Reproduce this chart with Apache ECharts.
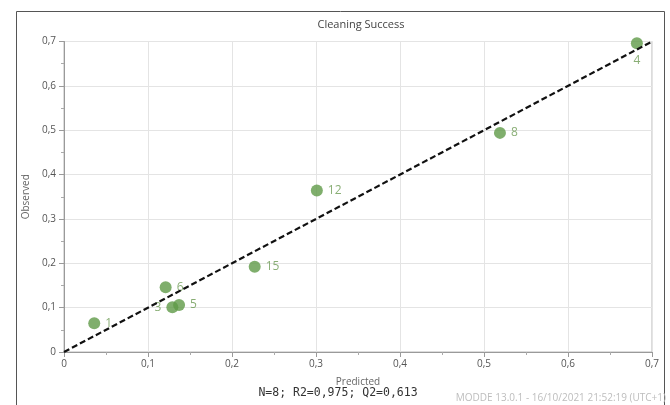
<!DOCTYPE html>
<html>
<head>
<meta charset="utf-8">
<script src="https://cdn.jsdelivr.net/npm/echarts@6/dist/echarts.min.js"></script>
<style>
  html, body { margin: 0; padding: 0; background: #fff; }
  #chart { width: 670px; height: 405px; }
</style>
</head>
<body>
<div id="chart"></div>
<script>
// Observations: run number, predicted value, observed value
const runLabels = ['1', '6', '3', '5', '15', '12', '8', '4'];
const predicted = [0.036, 0.121, 0.129, 0.137, 0.227, 0.301, 0.519, 0.682];
const observed  = [0.065, 0.146, 0.101, 0.106, 0.192, 0.364, 0.494, 0.696];
const labelSide = ['right', 'right', 'left', 'right', 'right', 'right', 'right', 'bottom'];

// Tick values for both axes
const axisTicks = [0, 0.1, 0.2, 0.3, 0.4, 0.5, 0.6, 0.7];
const diagonal = [[0, 0], [0.7, 0.7]];

const chartTitle = 'Cleaning Success';
const xName = 'Predicted';
const yName = 'Observed';
const statsText = 'N=8; R2=0,975; Q2=0,613';
const footerText = 'MODDE 13.0.1 - 16/10/2021 21:52:19 (UTC+1)';

const green = '#5f9a47';
const labelGreen = '#6b9a52';
const font = '"Open Sans", "Noto Sans", sans-serif';

const comma = v => String(Math.round(v * 10) / 10).replace('.', ',');

const points = predicted.map((p, i) => ({
  value: [p, observed[i]],
  name: runLabels[i],
  label: { position: labelSide[i] }
}));

function axis(name, isY) {
  return {
    type: 'value',
    min: axisTicks[0],
    max: axisTicks[axisTicks.length - 1],
    interval: 0.1,
    name: name,
    nameLocation: 'middle',
    nameGap: isY ? 31 : 25,
    nameTextStyle: { color: '#666', fontSize: 10, fontFamily: font },
    axisLine: { show: true, lineStyle: { color: '#9a9a9a', width: 1 } },
    axisTick: { show: true, length: 5, lineStyle: { color: '#9a9a9a' } },
    minorTick: { show: true, splitNumber: 2, length: 3, lineStyle: { color: '#aaa' } },
    splitLine: { show: true, lineStyle: { color: '#e4e4e4', width: 1 } },
    axisLabel: {
      color: '#555', fontSize: 10, fontFamily: font, margin: isY ? 8 : 7,
      formatter: v => comma(v)
    }
  };
}

const chart = echarts.init(document.getElementById('chart'), null, { renderer: 'canvas' });
chart.setOption({
  backgroundColor: '#fff',
  animation: false,
  grid: {
    left: 64, right: 18, top: 41.5, bottom: 53,
    show: true, borderColor: '#b8b8b8', borderWidth: 1, backgroundColor: 'transparent'
  },
  xAxis: axis(xName, false),
  yAxis: axis(yName, true),
  graphic: [
    {
      type: 'rect', silent: true, z: -1,
      shape: { x: 16.5, y: 11.5, width: 648, height: 420 },
      style: { fill: 'none', stroke: '#555', lineWidth: 1 }
    },
    {
      type: 'text', x: 361, y: 19,
      style: { text: chartTitle, fill: '#444', font: '11px ' + font, textAlign: 'center' }
    },
    {
      type: 'text', x: 338, y: 387,
      style: { text: statsText, fill: '#333', font: '11.5px "DejaVu Sans Mono", monospace', textAlign: 'center' }
    },
    {
      type: 'text', x: 666, y: 393,
      style: { text: footerText, fill: '#bdbdbd', font: '10px ' + font, textAlign: 'right' }
    }
  ],
  series: [
    {
      type: 'line',
      data: diagonal,
      symbol: 'none',
      silent: true,
      lineStyle: { color: '#111', width: 2.2, type: [6, 3] },
      z: 3
    },
    {
      type: 'scatter',
      data: points,
      symbolSize: 12,
      itemStyle: { color: green },
      label: {
        show: true,
        formatter: p => p.name,
        color: labelGreen,
        fontSize: 12,
        fontFamily: font,
        distance: 5
      },
      z: 2
    }
  ]
});
</script>
</body>
</html>
